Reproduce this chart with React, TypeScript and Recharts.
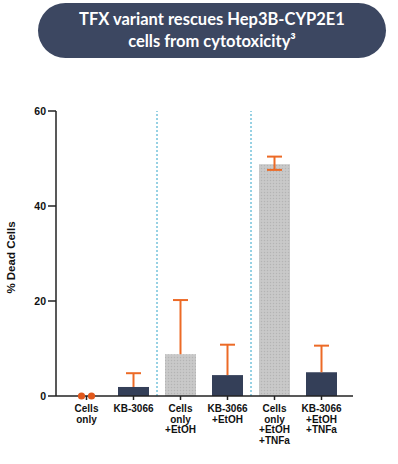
import React from 'react';
import {
  ComposedChart,
  Bar,
  Line,
  XAxis,
  YAxis,
  ReferenceLine,
} from 'recharts';

const categories = [
  'Cells\nonly',
  'KB-3066',
  'Cells\nonly\n+EtOH',
  'KB-3066\n+EtOH',
  'Cells\nonly\n+EtOH\n+TNFa',
  'KB-3066\n+EtOH\n+TNFa',
];
const deadCells = [0, 1.9, 8.8, 4.4, 48.8, 5.0];
const errorUp = [0, 2.9, 11.4, 6.4, 1.6, 5.6];
const errorDown = [0, 0, 0, 0, 1.2, 0];
const treated = [false, true, false, true, false, true];
const replicateDots = [0, null, null, null, null, null];
const yTicks = [0, 20, 40, 60];

const NAVY = '#343f58';
const ORANGE = '#ec6a26';
const AXIS = '#222222';
const FONT = 'Liberation Sans, Arial, sans-serif';

const data = categories.map((name, i) => ({
  name,
  value: deadCells[i],
  up: errorUp[i],
  down: errorDown[i],
  treated: treated[i],
  dots: replicateDots[i],
}));

const BarWithError = (props: any) => {
  const { x, y, width, height, payload } = props;
  if (!payload || payload.value <= 0) return null;
  const unit = height / payload.value;
  const cx = x + width / 2;
  const top = y - payload.up * unit;
  const bottom = y + payload.down * unit;
  return (
    <g>
      <rect x={x} y={y} width={width} height={height} fill={payload.treated ? NAVY : 'url(#greyDots)'} />
      <line x1={cx} x2={cx} y1={top} y2={bottom} stroke={ORANGE} strokeWidth={2} />
      <line x1={cx - 7.5} x2={cx + 7.5} y1={top} y2={top} stroke={ORANGE} strokeWidth={2} />
      {payload.down > 0 && (
        <line x1={cx - 7.5} x2={cx + 7.5} y1={bottom} y2={bottom} stroke={ORANGE} strokeWidth={2} />
      )}
    </g>
  );
};

const ReplicateDot = (props: any) => {
  const { cx, cy, payload, index } = props;
  if (payload.dots === null || payload.dots === undefined) return <g key={index} />;
  return (
    <g key={index}>
      <circle cx={cx - 5} cy={cy} r={3.6} fill="#e0581c" />
      <circle cx={cx + 5} cy={cy} r={3.6} fill="#e0581c" />
    </g>
  );
};

const CategoryTick = (props: any) => {
  const { x, y, payload } = props;
  const lines = String(payload.value).split('\n');
  return (
    <text x={x} y={y} textAnchor="middle" fill="#111" fontSize={10} fontWeight="bold" fontFamily={FONT}>
      {lines.map((l, i) => (
        <tspan key={i} x={x} y={y + 10 + i * 10.7}>
          {l}
        </tspan>
      ))}
    </text>
  );
};

export default function App() {
  return (
    <div style={{ position: 'absolute', left: 0, top: 0, width: 398, height: 464, background: '#fff' }}>
      <div
        style={{
          position: 'absolute',
          left: 38,
          top: 3,
          width: 348,
          height: 55,
          borderRadius: 28,
          background: '#3c4761',
          color: '#fff',
          fontFamily: 'Lato, sans-serif',
          fontWeight: 'bold',
          fontSize: 16.5,
          lineHeight: '22px',
          textAlign: 'center',
          paddingTop: 5,
          boxSizing: 'border-box',
        }}
      >
        TFX variant rescues Hep3B-CYP2E1
        <br />
        cells from cytotoxicity³
      </div>
      <div style={{ position: 'absolute', left: 0, top: 0 }}>
        <ComposedChart
          width={398}
          height={464}
          data={data}
          margin={{ top: 111, right: 45, bottom: 0, left: 0 }}
        >
          <defs>
            <pattern id="greyDots" width="3" height="3" patternUnits="userSpaceOnUse">
              <rect width="3" height="3" fill="#c6c6c6" />
              <rect width="1" height="1" fill="#b4b4b4" />
              <rect x="1.5" y="1.5" width="1" height="1" fill="#d2d2d2" />
            </pattern>
          </defs>
          <XAxis
            dataKey="name"
            interval={0}
            padding={{ left: 7, right: 8 }}
            tickSize={4}
            tickMargin={2}
            height={68}
            stroke={AXIS}
            strokeWidth={1.5}
            tick={<CategoryTick />}
          />
          <YAxis
            domain={[0, 60]}
            ticks={yTicks}
            width={56}
            tickSize={8}
            stroke={AXIS}
            strokeWidth={1.5}
            tick={{ fill: '#111', fontSize: 10.5, fontWeight: 'bold', fontFamily: FONT }}
            label={{
              value: '% Dead Cells',
              angle: -90,
              position: 'insideLeft',
              offset: 11,
              dy: 4,
              style: { fill: '#111', fontSize: 11.5, fontWeight: 'bold', fontFamily: FONT, textAnchor: 'middle' },
            }}
          />
          <ReferenceLine x={categories[1]} position="end" stroke="#2ea3c8" strokeDasharray="2 2" strokeWidth={1} />
          <ReferenceLine x={categories[3]} position="end" stroke="#2ea3c8" strokeDasharray="2 2" strokeWidth={1} />
          <Bar dataKey="value" barSize={31} shape={<BarWithError />} isAnimationActive={false} />
          <Line
            dataKey="dots"
            stroke="none"
            dot={<ReplicateDot />}
            activeDot={false}
            isAnimationActive={false}
          />
        </ComposedChart>
      </div>
    </div>
  );
}
